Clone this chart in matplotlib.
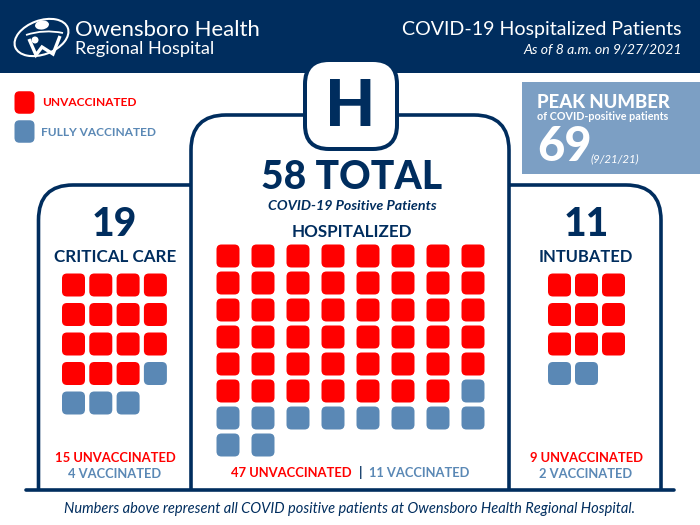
import matplotlib
matplotlib.use('Agg')
import matplotlib.pyplot as plt
from matplotlib.patches import FancyBboxPatch, Rectangle, Ellipse, PathPatch, Circle
from matplotlib.path import Path

plt.rcParams['font.family'] = ['Lato', 'DejaVu Sans']

NAVY = '#002d5e'
RED = '#ff0000'
BLUE = '#5a88b5'
PEAK = '#7c9fc4'

# panels: counts and where the square grid sits (pixels)
panels = [
    {'unvax': 15, 'vax': 4, 'x0': 73.5, 'dx': 27.3, 'y0': 285, 'dy': 29.5, 'cols': 4},
    {'unvax': 47, 'vax': 11, 'x0': 228, 'dx': 35, 'y0': 256, 'dy': 27, 'cols': 8},
    {'unvax': 9, 'vax': 2, 'x0': 559.5, 'dx': 27, 'y0': 285, 'dy': 29.5, 'cols': 3},
]
SIZE = 23

fig = plt.figure(figsize=(7, 5.25), dpi=100)
ax = fig.add_axes([0, 0, 1, 1])
ax.set_xlim(0, 700)
ax.set_ylim(525, 0)
ax.axis('off')


def txt(x, y, s, px, color=NAVY, weight='normal', ha='center', style='normal'):
    # px is the font size in image pixels, y is the baseline
    return ax.text(x, y, s, fontsize=px * 0.72, color=color, fontweight=weight,
                   ha=ha, va='baseline', fontstyle=style, zorder=6)


def square(cx, cy, color, w=SIZE, h=SIZE):
    pad = 5
    ax.add_patch(FancyBboxPatch((cx - w / 2 + pad, cy - h / 2 + pad), w - 2 * pad, h - 2 * pad,
                                boxstyle=f'round,pad={pad},rounding_size={pad}', fc=color, ec='none', zorder=4))


def outline(pts, lw=3.6):
    codes = [c for c, _ in pts]
    verts = [v for _, v in pts]
    ax.add_patch(PathPatch(Path(verts, codes), fc='none', ec=NAVY, lw=lw * 0.72, zorder=3, capstyle='butt'))


M, L, C = Path.MOVETO, Path.LINETO, Path.CURVE3

# header + peak box
ax.add_patch(Rectangle((0, 0), 700, 72.7, fc=NAVY, ec='none', zorder=1))
ax.add_patch(Rectangle((522, 81.5), 178, 92.5, fc=PEAK, ec='none', zorder=1))

# panel outlines
outline([(M, (38.5, 490)), (L, (38.5, 220)), (C, (38.5, 185)), (C, (73, 185)), (L, (191, 185))])
outline([(M, (191, 490)), (L, (191, 150)), (C, (191, 115)), (C, (226, 115)), (L, (304, 115))])
outline([(M, (397, 115)), (L, (474, 115)), (C, (509, 115)), (C, (509, 150)), (L, (509, 490))])
outline([(M, (509, 185)), (L, (626, 185)), (C, (661, 185)), (C, (661, 220)), (L, (661, 490))])
ax.plot([26, 674], [489.7, 489.7], color=NAVY, lw=3.6 * 0.72, solid_capstyle='round', zorder=3)

# H badge
ax.add_patch(FancyBboxPatch((329, 84), 44, 41, boxstyle='round,pad=24,rounding_size=24',
                            fc='white', ec=NAVY, lw=4 * 0.72, zorder=5))
txt(350.5, 126, 'H', 65, weight='black')

# squares
for p in panels:
    colors = [RED] * p['unvax'] + [BLUE] * p['vax']
    for i, c in enumerate(colors):
        row, col = divmod(i, p['cols'])
        square(p['x0'] + col * p['dx'], p['y0'] + row * p['dy'], c)

# legend
square(24.5, 102.5, RED, 20, 22.5)
txt(42, 106, 'UNVACCINATED', 11.9, RED, 'bold', 'left')
square(24.5, 131.5, BLUE, 20, 22.5)
txt(41, 135.5, 'FULLY VACCINATED', 11.9, BLUE, 'bold', 'left')

# header text
txt(75, 36, 'Owensboro Health', 22.2, 'white', 'normal', 'left')
txt(75, 54, 'Regional Hospital', 18.2, 'white', 'normal', 'left')
txt(682, 35.5, 'COVID-19 Hospitalized Patients', 19.6, 'white', 'normal', 'right')
txt(682, 54, 'As of 8 a.m. on 9/27/2021', 14, 'white', 'normal', 'right', 'italic')

# logo, roughly
ax.add_patch(Ellipse((41.5, 37.5), 56, 34, angle=-20, fc='none', ec='white', lw=1.5, zorder=6))
ax.add_patch(Ellipse((42, 25), 14, 9, angle=-8, fc='white', ec='none', zorder=6))
ax.add_patch(PathPatch(Path([(26, 35), (44, 29), (63, 33)], [M, C, C]), fc='none', ec='white', lw=1.3, zorder=6))
ax.add_patch(PathPatch(Path([(29, 39), (36, 55), (42, 47), (53, 54), (60, 36)], [M, L, L, L, L]),
                       fc='none', ec='white', lw=2.4, zorder=6))
ax.add_patch(Circle((35, 40), 3.5, fc='white', ec='none', zorder=6))

# peak box text
txt(537, 108, 'PEAK NUMBER', 18.5, 'white', 'black', 'left')
txt(537, 120.5, 'of COVID-positive patients', 10.8, 'white', 'bold', 'left')
txt(537, 161, '69', 47, 'white', 'black', 'left')
txt(591, 162, '(9/21/21)', 11.5, 'white', 'normal', 'left', 'italic')

# centre panel
txt(352, 189, '58 TOTAL', 39, weight='black')
txt(352, 210, 'COVID-19 Positive Patients', 14.3, weight='bold', style='italic')
txt(352, 237, 'HOSPITALIZED', 17, weight='bold')
txt(352, 477, '47 UNVACCINATED', 13, RED, 'bold', 'right')
txt(360.5, 477, '|', 13, NAVY, 'bold')
txt(369, 477, '11 VACCINATED', 12.9, BLUE, 'bold', 'left')

# left panel
txt(114, 236, '19', 39, weight='black')
txt(115, 262, 'CRITICAL CARE', 17, weight='bold')
txt(115, 462, '15 UNVACCINATED', 13, RED, 'bold')
txt(115, 478, '4 VACCINATED', 12.9, BLUE, 'bold')

# right panel
txt(586, 236, '11', 39, weight='black')
txt(586, 262, 'INTUBATED', 16.5, weight='bold')
txt(586, 462, '9 UNVACCINATED', 13, RED, 'bold')
txt(586, 478, '2 VACCINATED', 12.9, BLUE, 'bold')

# footnote
txt(350, 513, 'Numbers above represent all COVID positive patients at Owensboro Health Regional Hospital.',
    14.65, style='italic')

fig.savefig('out.png', dpi=100)
